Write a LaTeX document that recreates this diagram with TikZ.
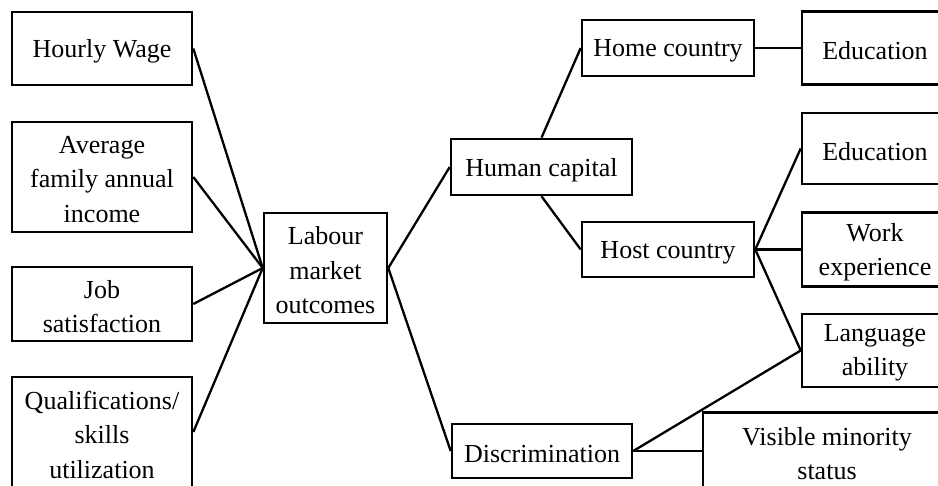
\documentclass[tikz,border=0pt]{standalone}
\usepackage{fontspec}
\setmainfont{Liberation Serif}
\begin{document}
\begin{tikzpicture}[x=1pt,y=-1pt,
  box/.style={draw=black,line width=2.6pt,fill=white,inner sep=0pt},
  txt/.style={inner sep=0pt,align=center,font=\fontsize{26}{34.5}\selectfont},
  link/.style={draw=black,line width=2.3pt}]
\useasboundingbox (0,0) rectangle (938,486);
\clip (0,0) rectangle (938,486);
% left column
\node[box,minimum width=180pt,minimum height=73pt] (hw) at (102,48.5) {};
\node[box,minimum width=180pt,minimum height=110pt] (avg) at (102,177) {};
\node[box,minimum width=180pt,minimum height=74pt] (job) at (102,304) {};
\node[box,minimum width=180pt,minimum height=110pt] (qual) at (102,432) {};
% centre
\node[box,minimum width=123pt,minimum height=110pt] (lab) at (325.5,268) {};
\node[box,minimum width=181pt,minimum height=56pt] (hum) at (541.5,167) {};
\node[box,minimum width=180pt,minimum height=54pt] (disc) at (542,451) {};
\node[box,minimum width=172pt,minimum height=56pt] (home) at (668,48) {};
\node[box,minimum width=172pt,minimum height=55pt] (host) at (668,249.5) {};
% right column
\node[box,minimum width=146pt,minimum height=73pt] (edu1) at (875,48) {};
\node[box,minimum width=146pt,minimum height=71pt] (edu2) at (875,148.5) {};
\node[box,minimum width=146pt,minimum height=74pt] (work) at (875,249.5) {};
\node[box,minimum width=146pt,minimum height=73pt] (lang) at (875,350.5) {};
\node[box,minimum width=248pt,minimum height=77pt] (vis) at (827,451) {};
% texts
\node[txt] (hwt) at ([yshift=-3pt]hw.center) {Hourly Wage};
\node[txt] (avgt) at ([yshift=-2.5pt]avg.center) {Average\\family annual\\income};
\node[txt] (jobt) at ([yshift=-2.5pt]job.center) {Job\\satisfaction};
\node[txt] (qualt) at ([yshift=-2.5pt]qual.center) {Qualifications/\\skills\\utilization};
\node[txt] (labt) at ([yshift=-2.5pt]lab.center) {Labour\\market\\outcomes};
\node[txt] (humt) at ([yshift=-3pt]hum.center) {Human capital};
\node[txt] (disct) at ([yshift=-3pt]disc.center) {Discrimination};
\node[txt] (homet) at ([yshift=-3pt]home.center) {Home country};
\node[txt] (hostt) at ([yshift=-3pt]host.center) {Host country};
\node[txt] (edu1t) at ([yshift=-3pt]edu1.center) {Education};
\node[txt] (edu2t) at ([yshift=-3pt]edu2.center) {Education};
\node[txt] (workt) at ([yshift=-2.5pt]work.center) {Work\\experience};
\node[txt] (langt) at ([yshift=-2.5pt]lang.center) {Language\\ability};
\node[txt] (vist) at ([yshift=-2.5pt]vis.center) {Visible minority\\status};
% connectors
\foreach \n in {hw,avg,job,qual} \draw[link] (\n.east) -- (lab.west);
\draw[link] (lab.east) -- (hum.west);
\draw[link] (lab.east) -- (disc.west);
\draw[link] (hum.north) -- (home.west);
\draw[link] (hum.south) -- (host.west);
\draw[link] (home.east) -- (edu1.west);
\draw[link] (host.east) -- (edu2.west);
\draw[link] (host.east) -- (work.west);
\draw[link] (host.east) -- (lang.west);
\draw[link] (disc.east) -- (lang.west);
\draw[link] (disc.east) -- (vis.west);
\end{tikzpicture}
\end{document}
